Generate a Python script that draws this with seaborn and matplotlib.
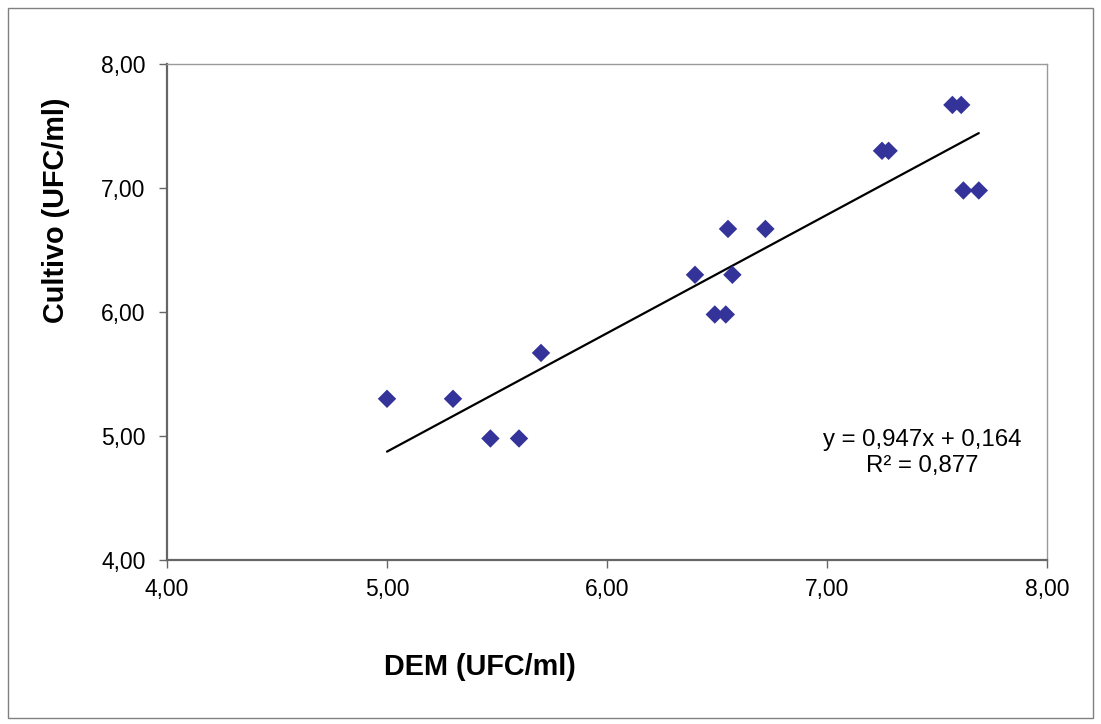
import numpy as np
import pandas as pd
import matplotlib
matplotlib.use("Agg")
import matplotlib.pyplot as plt
from matplotlib.ticker import FuncFormatter, MultipleLocator
from matplotlib.patches import Rectangle
import seaborn as sns

# Data
dem = [5.00, 5.30, 5.47, 5.60, 5.70, 6.40, 6.49, 6.54, 6.55, 6.57, 6.72,
       7.25, 7.28, 7.57, 7.61, 7.62, 7.69]
cultivo = [5.30, 5.30, 4.98, 4.98, 5.67, 6.30, 5.98, 5.98, 6.67, 6.30, 6.67,
           7.30, 7.30, 7.67, 7.67, 6.98, 6.98]
eq_text = "y = 0,947x + 0,164"
r2_text = "R² = 0,877"
x_label = "DEM (UFC/ml)"
y_label = "Cultivo (UFC/ml)"

df = pd.DataFrame({"DEM": dem, "Cultivo": cultivo})

sns.set_theme(style="white")
plt.rcParams['font.family'] = ['Liberation Sans', 'DejaVu Sans']
plt.rcParams['text.color'] = 'black'
plt.rcParams['axes.labelcolor'] = 'black'

W, H = 1101, 724
fig = plt.figure(figsize=(W/100, H/100), dpi=100)
ax = fig.add_axes([167/W, 1 - 560/H, (1047-167)/W, (560-64)/H])

sns.regplot(data=df, x="DEM", y="Cultivo", scatter=False, ci=None,
            color="black", line_kws={"linewidth": 1.6}, ax=ax, truncate=True)
sns.scatterplot(data=df, x="DEM", y="Cultivo", marker="D", s=88,
                color="#333399", edgecolor="none", ax=ax, zorder=3)

ax.set_xlim(4, 8)
ax.set_ylim(4, 8)
ax.xaxis.set_major_locator(MultipleLocator(1))
ax.yaxis.set_major_locator(MultipleLocator(1))
fmt = FuncFormatter(lambda v, p: f"{v:.2f}".replace(".", ","))
ax.xaxis.set_major_formatter(fmt)
ax.yaxis.set_major_formatter(fmt)
ax.tick_params(axis="both", which="major", direction="out", length=6,
               width=1, color="#666666", labelsize=16.5, labelcolor="black",
               bottom=True, left=True)
ax.tick_params(axis="x", pad=7)
ax.tick_params(axis="y", pad=9.5)

for side in ["left", "bottom"]:
    ax.spines[side].set_color("#666666")
    ax.spines[side].set_linewidth(1.6)
for side in ["top", "right"]:
    ax.spines[side].set_color("#9a9a9a")
    ax.spines[side].set_linewidth(1.0)
    ax.spines[side].set_visible(True)

ax.set_xlabel("")
ax.set_ylabel("")
fig.text(480/W, 1 - 675/H, x_label, ha="center", va="baseline",
         fontsize=20.8, fontweight="bold")
fig.text(56/W, 1 - 210/H, y_label, ha="center", va="center",
         fontsize=20.8, fontweight="bold", rotation=90)

fig.text(922/W, 1 - 446/H, eq_text, ha="center", va="baseline", fontsize=17.3)
fig.text(922/W, 1 - 472/H, r2_text, ha="center", va="baseline", fontsize=17.3)

fig.patches.append(Rectangle((8/W, 6/H), 1 - 16/W, 1 - 14/H,
                             transform=fig.transFigure, fill=False,
                             edgecolor="#808080", linewidth=1.0))

fig.savefig("out.png", dpi=100)
